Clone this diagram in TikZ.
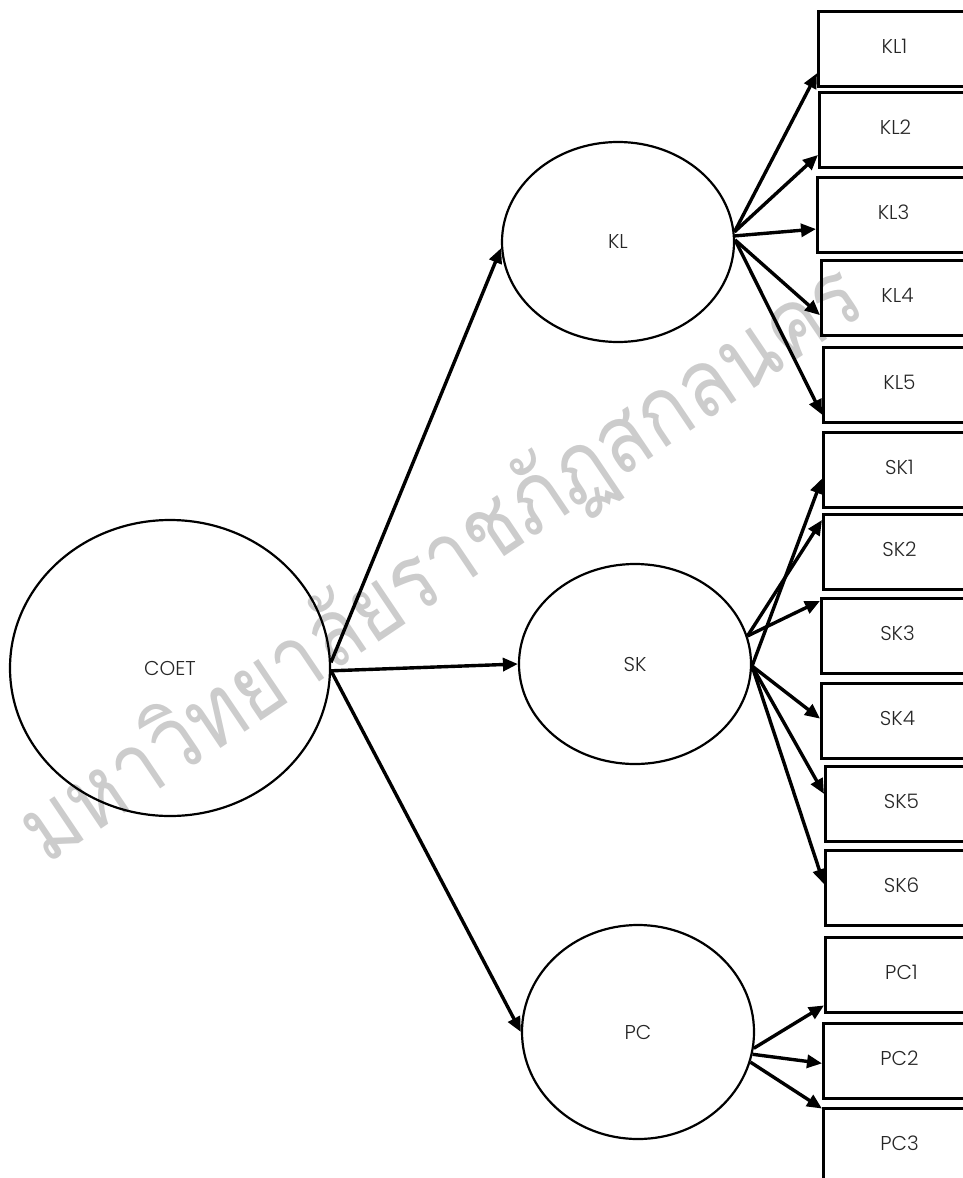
\documentclass[tikz,border=0pt]{standalone}
\usepackage{fontspec}
\usepackage{graphicx}
\setmainfont{Poppins Light}
\newfontfamily\thaifont[Script=Thai]{Loma}
\usetikzlibrary{shapes.geometric,arrows.meta,calc}
\begin{document}
\begin{tikzpicture}[x=1pt,y=-1pt,
  lat/.style={ellipse, draw, line width=2.2pt, inner sep=0pt, font=\fontsize{20}{20}\selectfont, text=black!85},
  obs/.style={rectangle, draw, line width=3pt, minimum width=152pt, minimum height=75pt, anchor=north west, inner sep=0pt, font=\fontsize{20}{20}\selectfont, text=black!85},
  arr/.style={line width=3.4pt, -{Triangle[length=15pt,width=13pt]}},
  wmark/.style={rotate=34, text=black!20, font=\thaifont\fontsize{94}{94}\selectfont, inner sep=0pt}]
\useasboundingbox (0,0) rectangle (963,1178);
\clip (0,0) rectangle (963,1178);
\node[wmark] (water) at (442,565) {\scalebox{0.86}[1]{มหาวิทยาลัยราชภัฏสกลนคร}};
% latent ellipses
\node[lat, minimum width=320pt, minimum height=296pt] (COET) at (170,668) {COET};
\node[lat, minimum width=232pt, minimum height=200pt] (KL) at (618,242) {KL};
\node[lat, minimum width=232pt, minimum height=200pt] (SK) at (635,664) {SK};
\node[lat, minimum width=232pt, minimum height=214pt] (PC) at (638,1032) {PC};
% indicator boxes
\node[obs] (KL1) at (817,10) {\raisebox{5pt}{KL1}};
\node[obs] (KL2) at (818,91) {\raisebox{5pt}{KL2}};
\node[obs] (KL3) at (816,176) {\raisebox{5pt}{KL3}};
\node[obs] (KL4) at (820,259) {\raisebox{5pt}{KL4}};
\node[obs] (KL5) at (822,346) {\raisebox{5pt}{KL5}};
\node[obs] (SK1) at (822,431) {\raisebox{5pt}{SK1}};
\node[obs] (SK2) at (822,513) {\raisebox{5pt}{SK2}};
\node[obs] (SK3) at (820,597) {\raisebox{5pt}{SK3}};
\node[obs] (SK4) at (820,682) {\raisebox{5pt}{SK4}};
\node[obs] (SK5) at (824,765) {\raisebox{5pt}{SK5}};
\node[obs] (SK6) at (824,849) {\raisebox{5pt}{SK6}};
\node[obs] (PC1) at (824,936) {\raisebox{5pt}{PC1}};
\node[obs] (PC2) at (822,1022) {\raisebox{5pt}{PC2}};
\node[obs] (PC3) at (822,1107) {\raisebox{5pt}{PC3}};
% structural arrows
\draw[arr] (COET.2) -- (KL.183);
\draw[arr] (COET.-1) -- (SK.west);
\draw[arr] (COET.-1) -- (PC.west);
% KL indicators
\draw[arr] (KL.5) -- ($(KL1.north west)!0.81!(KL1.south west)$);
\draw[arr] (KL.5) -- ($(KL2.north west)!0.82!(KL2.south west)$);
\draw[arr] (KL.3) -- ($(KL3.north west)!0.68!(KL3.south west)$);
\draw[arr] (KL.1) -- ($(KL4.north west)!0.72!(KL4.south west)$);
\draw[arr] (KL.1) -- ($(KL5.north west)!0.88!(KL5.south west)$);
% SK indicators
\draw[arr] (SK.-1) -- ($(SK1.north west)!0.61!(SK1.south west)$);
\draw[arr] (SK.14) -- ($(SK2.north west)!0.09!(SK2.south west)$);
\draw[arr] (SK.14) -- ($(SK3.north west)!0.05!(SK3.south west)$);
\draw[arr] (SK.-1) -- ($(SK4.north west)!0.47!(SK4.south west)$);
\draw[arr] (SK.-1) -- ($(SK5.north west)!0.37!(SK5.south west)$);
\draw[arr] (SK.-1) -- ($(SK6.north west)!0.45!(SK6.south west)$);
% PC indicators
\draw[arr] (PC.-8) -- ($(PC1.north west)!0.89!(PC1.south west)$);
\draw[arr] (PC.-11) -- ($(PC2.north west)!0.53!(PC2.south west)$);
\draw[arr] (PC.-15) -- ($(PC3.north west)!0.02!(PC3.south west)$);
\end{tikzpicture}
\end{document}
